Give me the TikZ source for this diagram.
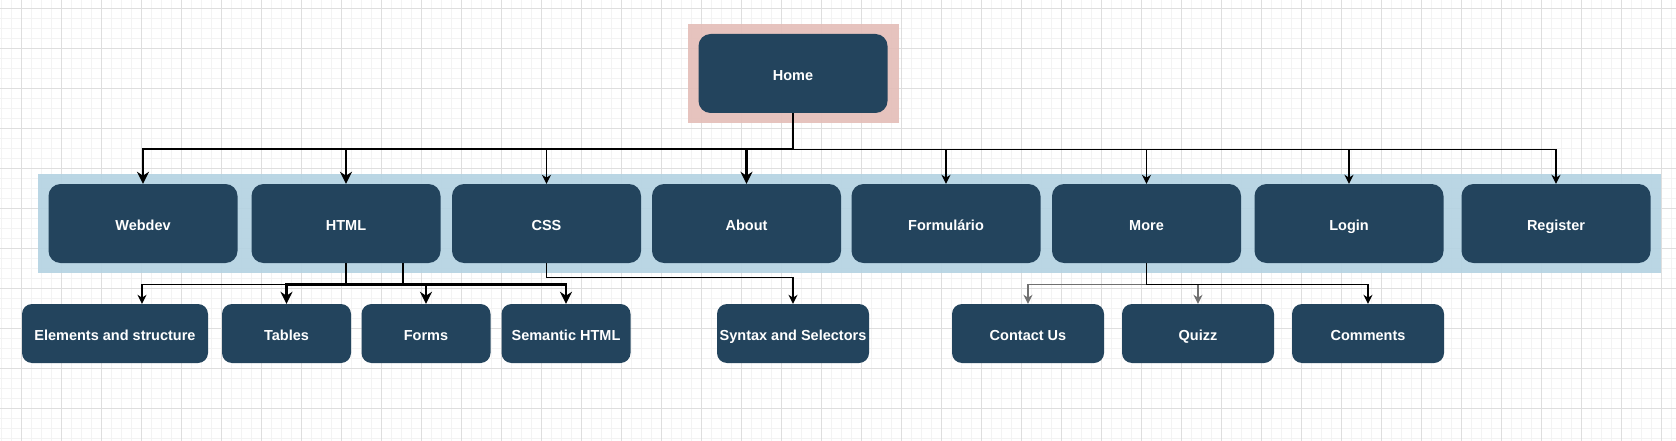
\documentclass[tikz,border=0pt]{standalone}
\usepackage{fontspec}
\setmainfont{Liberation Sans}
\usetikzlibrary{arrows.meta}

\definecolor{boxblue}{HTML}{23445D}
\definecolor{bandblue}{HTML}{B3D2E2}
\definecolor{bandpink}{HTML}{E4BDB8}
\definecolor{gridmajor}{HTML}{DEDEDE}
\definecolor{gridminor}{HTML}{F3F3F3}
\definecolor{linegrey}{HTML}{707070}

\begin{document}
\begin{tikzpicture}[
		x=1pt, y=-1pt,
		box/.style={
			fill=boxblue,
			rounded corners=12pt,
			align=center,
			inner sep=0pt,
			minimum width=189pt,
			minimum height=79pt,
			text height=13.5pt,
			text depth=0pt,
			text=white,
			font=\bfseries\fontsize{14.5}{17}\selectfont
		},
		subbox/.style={box, rounded corners=10pt, minimum width=152pt, minimum height=59pt},
		line/.style={draw, line width=1.3pt, -{Stealth[length=9pt, width=9pt]}},
		thickline/.style={draw, line width=2.6pt, -{Stealth[length=12pt, width=12pt]}},
		greyline/.style={line, draw=linegrey}
		]
		
		\useasboundingbox (0,0) rectangle (1676,441);
		\fill[white] (0,0) rectangle (1676,441);
		
		% Grid
		\foreach \gx in {1,11,...,1671}
			\draw[gridminor, line width=0.8pt] (\gx,0) -- (\gx,441);
		\foreach \gy in {8,18,...,438}
			\draw[gridminor, line width=0.8pt] (0,\gy) -- (1676,\gy);
		\foreach \gx in {21,61,...,1661}
			\draw[gridmajor, line width=0.9pt] (\gx,0) -- (\gx,441);
		\foreach \gy in {8,48,...,408}
			\draw[gridmajor, line width=0.9pt] (0,\gy) -- (1676,\gy);
		
		% Group backgrounds
		\fill[bandpink, fill opacity=0.9] (688,24) rectangle (899,123);
		\fill[bandblue, fill opacity=0.9] (38,174) rectangle (1661,273);
		
		% Top node
		\node[box] (home) at (793,73.5) {Home};
		
		% Main menu
		\node[box] (webdev) at (143,223.5) {Webdev};
		\node[box] (html) at (346,223.5) {HTML};
		\node[box] (css) at (546.5,223.5) {CSS};
		\node[box] (about) at (746.5,223.5) {About};
		\node[box] (form) at (946,223.5) {Formulário};
		\node[box] (more) at (1146.5,223.5) {More};
		\node[box] (login) at (1349,223.5) {Login};
		\node[box] (register) at (1556,223.5) {Register};
		
		% Sub pages
		\node[subbox, minimum width=186pt] (elements) at (115,333.5) {Elements and structure};
		\node[subbox, minimum width=129pt] (tables) at (286.5,333.5) {Tables};
		\node[subbox, minimum width=129pt] (forms) at (426,333.5) {Forms};
		\node[subbox, minimum width=129pt] (semantic) at (566,333.5) {Semantic HTML};
		\node[subbox] (syntax) at (793,333.5) {Syntax and Selectors};
		\node[subbox] (contact) at (1028,333.5) {Contact Us};
		\node[subbox] (quizz) at (1198,333.5) {Quizz};
		\node[subbox] (comments) at (1368,333.5) {Comments};
		
		% Home to main menu
		\draw[line] (home.south) -- ++(0,36) -| (css.north);
		\draw[line] (home.south) -- ++(0,36) -| (form.north);
		\draw[line] (home.south) -- ++(0,36) -| (more.north);
		\draw[line] (home.south) -- ++(0,36) -| (login.north);
		\draw[line] (home.south) -- ++(0,36) -| (register.north);
		\draw[thickline] (home.south) -- ++(0,36) -| (webdev.north);
		\draw[thickline] (home.south) -- ++(0,36) -| (html.north);
		\draw[thickline] (home.south) -- ++(0,36) -| (about.north);
		
		% HTML branch
		\draw[line] ([xshift=57pt]html.south) -- ++(0,21) -| ([xshift=27pt]elements.north);
		\draw[thickline] (html.south) -- ++(0,21) -| (tables.north);
		\draw[thickline] (html.south) -- ++(0,21) -| (forms.north);
		\draw[thickline] (html.south) -- ++(0,21) -| (semantic.north);
		
		% CSS branch
		\draw[line] (css.south) -- ++(0,14) -| (syntax.north);
		
		% More branch
		\draw[greyline] (more.south) -- ++(0,21) -| (contact.north);
		\draw[greyline] (more.south) -- ++(0,21) -| (quizz.north);
		\draw[line] (more.south) -- ++(0,21) -| (comments.north);
		
	\end{tikzpicture}
\end{document}
